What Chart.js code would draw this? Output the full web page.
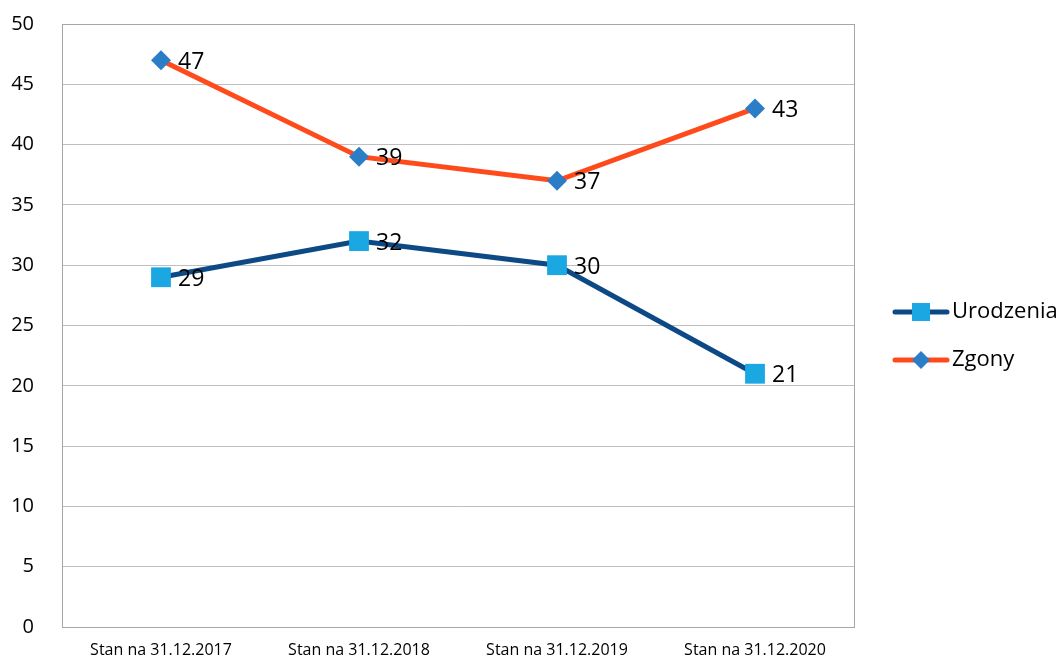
<!DOCTYPE html>
<html>
<head>
<meta charset="utf-8">
<script src="https://cdn.jsdelivr.net/npm/chart.js@4"></script>
<style>
  html, body { margin: 0; padding: 0; background: #fff; }
  #wrap { width: 1064px; height: 660px; }
</style>
</head>
<body>
<div id="wrap"><canvas id="lineChart" width="1064" height="660"></canvas></div>
<script>
const labels = ["Stan na 31.12.2017", "Stan na 31.12.2018", "Stan na 31.12.2019", "Stan na 31.12.2020"];
const urodzenia = [29, 32, 30, 21];
const zgony = [47, 39, 37, 43];
const yTicks = [0, 5, 10, 15, 20, 25, 30, 35, 40, 45, 50];

const FONT = "'Open Sans', 'Liberation Sans', sans-serif";

// value labels to the right of each point
const valueLabels = {
  id: 'valueLabels',
  afterDatasetsDraw(chart) {
    const ctx = chart.ctx;
    ctx.save();
    ctx.font = '23px ' + FONT;
    ctx.fillStyle = '#000';
    ctx.textAlign = 'left';
    ctx.textBaseline = 'middle';
    chart.data.datasets.forEach((ds, i) => {
      chart.getDatasetMeta(i).data.forEach((pt, j) => {
        ctx.fillText(ds.data[j], pt.x + 17, pt.y + 2);
      });
    });
    ctx.restore();
  }
};

// legend with line + marker, drawn on the right
const sideLegend = {
  id: 'sideLegend',
  afterDraw(chart) {
    const ctx = chart.ctx;
    const items = [
      { text: 'Urodzenia', line: '#0D4A85', fill: '#1AA7E2', shape: 'rect', y: 312 },
      { text: 'Zgony', line: '#FF4B1C', fill: '#2A7DC6', shape: 'rectRot', y: 360 }
    ];
    ctx.save();
    items.forEach(it => {
      ctx.strokeStyle = it.line;
      ctx.lineWidth = 5;
      ctx.lineCap = 'round';
      ctx.beginPath();
      ctx.moveTo(895, it.y);
      ctx.lineTo(947, it.y);
      ctx.stroke();
      ctx.fillStyle = it.fill;
      if (it.shape === 'rect') {
        ctx.fillRect(912, it.y - 9, 18, 18);
      } else {
        ctx.beginPath();
        ctx.moveTo(921, it.y - 9);
        ctx.lineTo(930, it.y);
        ctx.lineTo(921, it.y + 9);
        ctx.lineTo(912, it.y);
        ctx.closePath();
        ctx.fill();
      }
      ctx.fillStyle = '#000';
      ctx.font = '22px ' + FONT;
      ctx.textBaseline = 'middle';
      ctx.textAlign = 'left';
      ctx.fillText(it.text, 952, it.y);
    });
    ctx.restore();
  }
};

const chart = new Chart(document.getElementById('lineChart'), {
  type: 'line',
  data: {
    labels: labels,
    datasets: [
      {
        label: 'Urodzenia',
        data: urodzenia,
        borderColor: '#0D4A85',
        borderWidth: 5,
        pointStyle: 'rect',
        pointRadius: 14,
        pointHoverRadius: 14,
        pointBackgroundColor: '#1AA7E2',
        pointBorderWidth: 0,
        tension: 0
      },
      {
        label: 'Zgony',
        data: zgony,
        borderColor: '#FF4B1C',
        borderWidth: 5,
        pointStyle: 'rectRot',
        pointRadius: 10,
        pointHoverRadius: 10,
        pointBackgroundColor: '#2A7DC6',
        pointBorderWidth: 0,
        tension: 0
      }
    ]
  },
  options: {
    responsive: false,
    animation: false,
    layout: { autoPadding: false, padding: { top: 0, right: 210, left: 0, bottom: 0 } },
    plugins: {
      legend: { display: false },
      tooltip: { enabled: false }
    },
    scales: {
      x: {
        offset: true,
        afterFit(scale) { scale.height = 33; },
        grid: { display: false, drawTicks: false },
        border: { display: true, color: '#A6A6A6', width: 1 },
        ticks: {
          padding: 14,
          color: '#000',
          font: { family: FONT, size: 16 },
          maxRotation: 0
        }
      },
      y: {
        min: 0,
        max: 50,
        afterFit(scale) {
          scale.width = 62;
          scale.paddingTop = 24;
          scale.paddingBottom = 0;
        },
        afterBuildTicks(scale) { scale.ticks = yTicks.map(v => ({ value: v })); },
        grid: { color: '#BFBFBF', lineWidth: 1, drawTicks: false },
        border: { display: true, color: '#A6A6A6', width: 1 },
        ticks: {
          padding: 28,
          color: '#000',
          font: { family: FONT, size: 20 }
        }
      }
    }
  },
  plugins: [valueLabels, sideLegend,
    {
      id: 'frame',
      afterDraw(chart) {
        const a = chart.chartArea, ctx = chart.ctx;
        ctx.save();
        ctx.strokeStyle = '#A6A6A6';
        ctx.lineWidth = 1;
        ctx.strokeRect(Math.round(a.left) + 0.5, Math.round(a.top) + 0.5, Math.round(a.right - a.left), Math.round(a.bottom - a.top));
        ctx.restore();
      }
    }
  ]
});
</script>
</body>
</html>
